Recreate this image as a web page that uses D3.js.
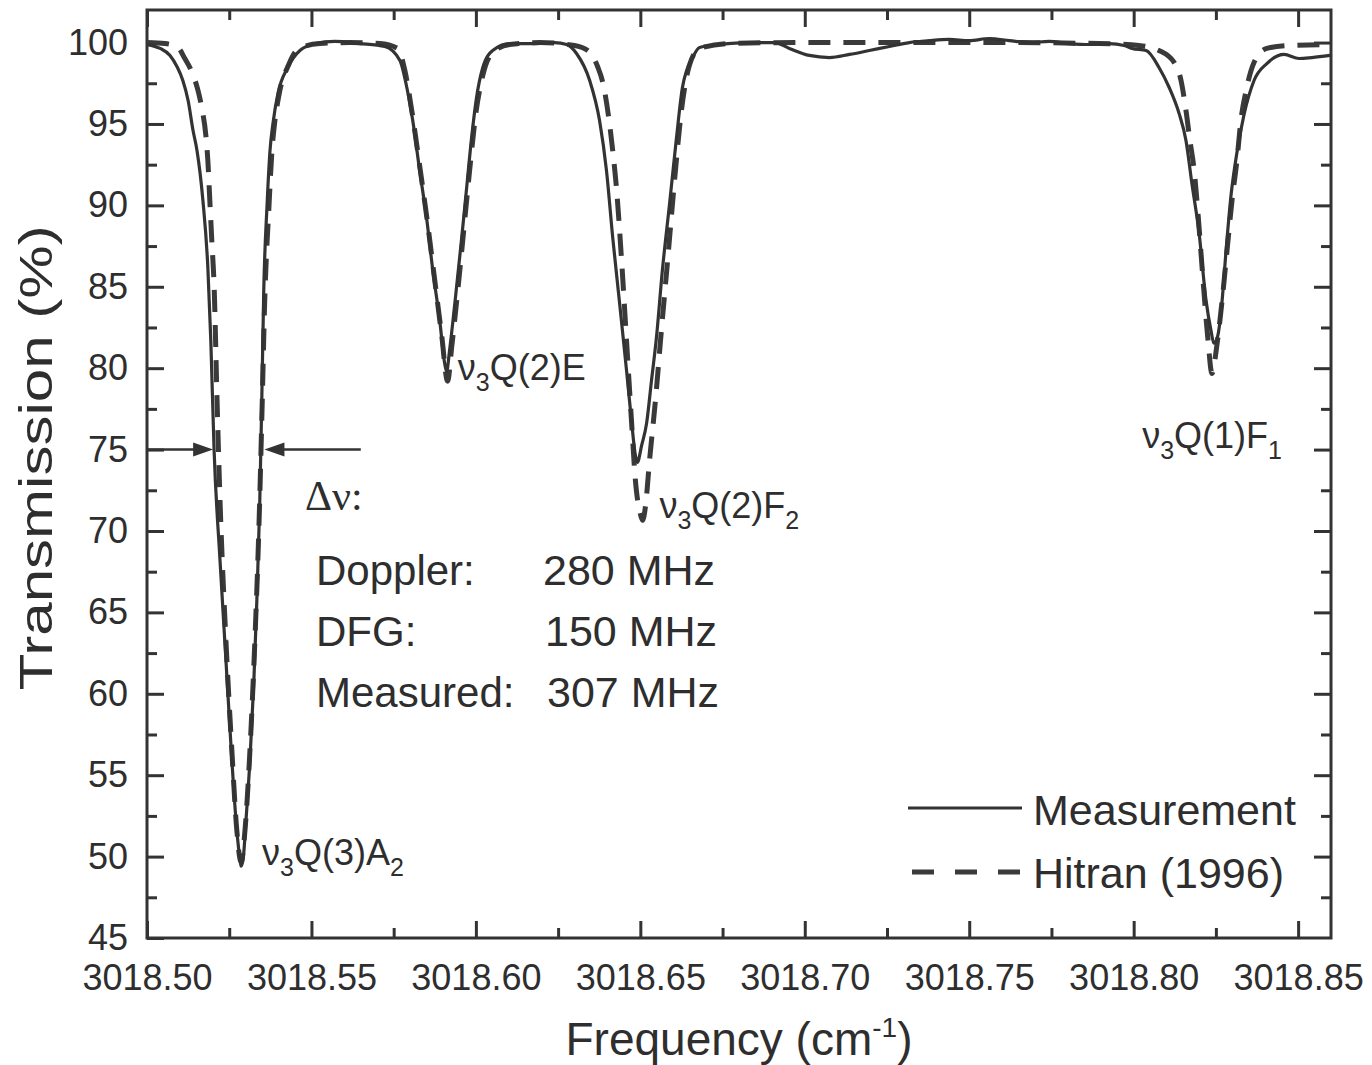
<!DOCTYPE html>
<html>
<head>
<meta charset="utf-8">
<script src="https://cdn.jsdelivr.net/npm/d3@7"></script>
<style>
  body { margin: 0; background: #fff; }
  text { font-family: "Liberation Sans", Arial, sans-serif; fill: #2e2e2e; }
</style>
</head>
<body>
<svg id="chart" width="1372" height="1065"></svg>
<script>
// measured transmission spectrum (cm-1, %)
const measFreq = [
  3018.5000, 3018.5040, 3018.5070, 3018.5091, 3018.5109, 3018.5125, 3018.5140, 3018.5152, 3018.5170, 3018.5185,
  3018.5194, 3018.5204, 3018.5222, 3018.5240, 3018.5258, 3018.5273, 3018.5283, 3018.5286, 3018.5292, 3018.5301,
  3018.5313, 3018.5325, 3018.5334, 3018.5343, 3018.5349, 3018.5355, 3018.5365, 3018.5374, 3018.5383, 3018.5398,
  3018.5428, 3018.5465, 3018.5513, 3018.5571, 3018.5647, 3018.5723,
  3018.5769, 3018.5790, 3018.5808, 3018.5829, 3018.5851, 3018.5869, 3018.5890, 3018.5905, 3018.5911, 3018.5920,
  3018.5936, 3018.5957, 3018.5972, 3018.5987, 3018.6002, 3018.6021, 3018.6051, 3018.6103, 3018.6173, 3018.6239,
  3018.6276,
  3018.6306, 3018.6346, 3018.6376, 3018.6397, 3018.6416, 3018.6437, 3018.6458, 3018.6473, 3018.6485, 3018.6491,
  3018.6504, 3018.6519, 3018.6534, 3018.6549, 3018.6567, 3018.6589, 3018.6610, 3018.6628, 3018.6659, 3018.6680,
  3018.6741, 3018.6832, 3018.6908, 3018.6953, 3018.7014, 3018.7075, 3018.7136, 3018.7196, 3018.7257, 3018.7318,
  3018.7379, 3018.7439, 3018.7500, 3018.7561, 3018.7622, 3018.7682, 3018.7743, 3018.7804, 3018.7865, 3018.7925,
  3018.7971,
  3018.7995, 3018.8038, 3018.8077, 3018.8108, 3018.8138, 3018.8159, 3018.8177, 3018.8199, 3018.8220, 3018.8235,
  3018.8244, 3018.8256, 3018.8269, 3018.8281, 3018.8296, 3018.8314, 3018.8335, 3018.8366, 3018.8405, 3018.8457,
  3018.8503, 3018.8542, 3018.8597
];
const measT = [
  99.88, 99.64, 99.21, 98.53, 97.67, 96.44, 94.60, 93.37, 90.30, 86.19,
  81.71, 74.96, 68.20, 62.07, 55.93, 51.63, 49.79, 49.42, 49.79, 52.24,
  55.93, 60.84, 65.75, 71.89, 78.03, 84.78, 90.00, 93.37, 95.03, 96.87,
  98.47, 99.51, 99.94, 100.07, 99.94, 99.76,
  98.90, 97.24, 95.21, 92.15, 89.08, 86.01, 82.94, 80.30, 79.80, 81.10,
  83.98, 88.03, 91.10, 94.17, 96.63, 98.47, 99.51, 99.94, 99.94, 100.00,
  99.88,
  99.33, 97.67, 95.21, 92.15, 88.03, 83.98, 79.87, 76.80, 74.65, 74.22,
  75.26, 76.61, 79.25, 81.89, 86.01, 90.12, 94.17, 97.24, 99.08, 99.70,
  99.88, 100.00, 100.00, 99.64, 99.21, 99.08, 99.27, 99.51, 99.76, 100.00,
  100.12, 100.19, 100.12, 100.25, 100.12, 100.00, 100.07, 99.94, 99.88, 99.94,
  99.82,
  99.64, 99.51, 98.47, 97.24, 95.65, 93.99, 91.35, 88.28, 84.17, 82.32,
  81.53, 82.02, 84.17, 87.24, 90.61, 93.25, 95.52, 97.67, 98.71, 99.27,
  99.02, 99.08, 99.21
];

// Hitran (1996) simulation
const hitranFreq = [
  3018.5000, 3018.5055, 3018.5094, 3018.5115, 3018.5137, 3018.5155, 3018.5167, 3018.5179, 3018.5185, 3018.5191,
  3018.5197, 3018.5204, 3018.5213, 3018.5222, 3018.5240, 3018.5258, 3018.5273, 3018.5286, 3018.5298, 3018.5313,
  3018.5328, 3018.5340, 3018.5349, 3018.5358, 3018.5371, 3018.5380, 3018.5389, 3018.5401, 3018.5431, 3018.5462,
  3018.5526, 3018.5617, 3018.5708,
  3018.5762, 3018.5784, 3018.5805, 3018.5829, 3018.5854, 3018.5875, 3018.5896, 3018.5914, 3018.5927, 3018.5945,
  3018.5963, 3018.5981, 3018.5999, 3018.6021, 3018.6051, 3018.6103, 3018.6194,
  3018.6300, 3018.6340, 3018.6370, 3018.6388, 3018.6403, 3018.6416, 3018.6428, 3018.6443, 3018.6458, 3018.6473,
  3018.6485, 3018.6501, 3018.6507, 3018.6516, 3018.6528, 3018.6546, 3018.6564, 3018.6583, 3018.6604, 3018.6625,
  3018.6649, 3018.6680, 3018.6771, 3018.6984, 3018.7287, 3018.7591, 3018.7895,
  3018.8016, 3018.8077, 3018.8123, 3018.8144, 3018.8159, 3018.8171, 3018.8184, 3018.8196, 3018.8211, 3018.8226,
  3018.8238, 3018.8253, 3018.8269, 3018.8284, 3018.8299, 3018.8314, 3018.8326, 3018.8342, 3018.8366, 3018.8405,
  3018.8472, 3018.8597
];
const hitranT = [
  100.00, 99.94, 99.70, 99.02, 98.16, 97.06, 95.95, 94.29, 92.76, 90.30,
  87.85, 85.09, 78.03, 71.89, 63.29, 56.54, 51.63, 49.67, 51.63, 56.54,
  63.29, 70.05, 76.80, 84.17, 90.00, 93.37, 95.21, 96.75, 98.65, 99.64,
  99.94, 100.00, 99.94,
  99.64, 98.29, 95.83, 92.45, 88.77, 85.39, 82.02, 79.20, 81.40, 84.78,
  88.46, 92.15, 95.52, 97.98, 99.39, 99.88, 100.00,
  99.82, 99.51, 98.53, 97.36, 95.52, 93.37, 90.92, 86.62, 81.71, 76.80,
  73.12, 70.97, 70.66, 71.58, 74.34, 78.03, 82.32, 86.62, 91.53, 95.83,
  98.59, 99.64, 99.94, 100.00, 100.00, 100.00, 99.94,
  99.82, 99.51, 98.78, 97.67, 95.83, 93.99, 92.15, 89.39, 85.39, 81.71,
  79.68, 81.40, 84.17, 87.24, 90.30, 92.76, 95.21, 97.06, 98.78, 99.64,
  99.82, 99.88
];

const xTicks = [3018.50, 3018.55, 3018.60, 3018.65, 3018.70, 3018.75, 3018.80, 3018.85];
const xMinor = [3018.525, 3018.575, 3018.625, 3018.675, 3018.725, 3018.775, 3018.825];
const yTicks = [45, 50, 55, 60, 65, 70, 75, 80, 85, 90, 95, 100];
const yMinor = [47.5, 52.5, 57.5, 62.5, 67.5, 72.5, 77.5, 82.5, 87.5, 92.5, 97.5];

// line labels: nu_3 + main part + subscript
const peakNames = [
  ["Q(3)A", "2"],
  ["Q(2)E", ""],
  ["Q(2)F", "2"],
  ["Q(1)F", "1"]
];
const peakAt = [[3018.5350, 49.5], [3018.5945, 79.3], [3018.6558, 70.8], [3018.8026, 75.1]];

const widthRows = ["Doppler:", "DFG:", "Measured:"];
const widthVals = ["280 MHz", "150 MHz", "307 MHz"];

const svg = d3.select('#chart');
const mLeft = 147, mRight = 1331, mTop = 10, mBottom = 938;
const ink = '#333';

const x = d3.scaleLinear().domain([3018.50, 3018.86]).range([mLeft, mRight]);
const y = d3.scaleLinear().domain([45, 102]).range([mBottom, mTop]);

svg.append('defs').append('clipPath').attr('id', 'plot')
  .append('rect').attr('x', mLeft).attr('y', mTop).attr('width', mRight - mLeft).attr('height', mBottom - mTop);

// axes, ticks point inward on all four sides
const fmtX = d3.format('.2f');
const axisStyle = g => {
  g.select('.domain').remove();
  g.selectAll('line').attr('stroke', ink).attr('stroke-width', 3);
  g.selectAll('text').style('font-size', '36px').attr('fill', '#2e2e2e');
};

svg.append('g').attr('transform', `translate(0,${mBottom})`)
  .call(d3.axisBottom(x).tickValues(xTicks).tickFormat(fmtX).tickSizeInner(-17).tickPadding(26))
  .call(axisStyle);
svg.append('g').attr('transform', `translate(0,${mBottom})`)
  .call(d3.axisBottom(x).tickValues(xMinor).tickFormat('').tickSizeInner(-10))
  .call(axisStyle);
svg.append('g').attr('transform', `translate(0,${mTop})`)
  .call(d3.axisTop(x).tickValues(xTicks).tickFormat('').tickSizeInner(-17))
  .call(axisStyle);
svg.append('g').attr('transform', `translate(0,${mTop})`)
  .call(d3.axisTop(x).tickValues(xMinor).tickFormat('').tickSizeInner(-10))
  .call(axisStyle);

svg.append('g').attr('transform', `translate(${mLeft},0)`)
  .call(d3.axisLeft(y).tickValues(yTicks).tickFormat(d3.format('d')).tickSizeInner(-17).tickPadding(19))
  .call(axisStyle);
svg.append('g').attr('transform', `translate(${mLeft},0)`)
  .call(d3.axisLeft(y).tickValues(yMinor).tickFormat('').tickSizeInner(-10))
  .call(axisStyle);
svg.append('g').attr('transform', `translate(${mRight},0)`)
  .call(d3.axisRight(y).tickValues(yTicks.filter(d => d > 45)).tickFormat('').tickSizeInner(-17))
  .call(axisStyle);
svg.append('g').attr('transform', `translate(${mRight},0)`)
  .call(d3.axisRight(y).tickValues(yMinor).tickFormat('').tickSizeInner(-10))
  .call(axisStyle);

svg.append('rect')
  .attr('x', mLeft).attr('y', mTop).attr('width', mRight - mLeft).attr('height', mBottom - mTop)
  .attr('fill', 'none').attr('stroke', ink).attr('stroke-width', 3);

// curves
const line = d3.line().x(d => x(d[0])).y(d => y(d[1])).curve(d3.curveMonotoneX);
const plot = svg.append('g').attr('clip-path', 'url(#plot)');

plot.append('path')
  .datum(hitranFreq.map((f, i) => [f, hitranT[i]]))
  .attr('d', line).attr('fill', 'none')
  .attr('stroke', '#3a3a3a').attr('stroke-width', 5)
  .attr('stroke-dasharray', '22,13');

plot.append('path')
  .datum(measFreq.map((f, i) => [f, measT[i]]))
  .attr('d', line).attr('fill', 'none')
  .attr('stroke', ink).attr('stroke-width', 3.2)
  .attr('stroke-linejoin', 'round');

// peak labels: nu_3 Q(..)X_n
peakNames.forEach((p, i) => {
  const t = svg.append('text')
    .attr('x', x(peakAt[i][0])).attr('y', y(peakAt[i][1]))
    .style('font-size', '36px');
  t.append('tspan').text('ν');
  t.append('tspan').attr('dy', 11).style('font-size', '25px').text('3');
  t.append('tspan').attr('dy', -11).text(p[0]);
  if (p[1]) t.append('tspan').attr('dy', 11).style('font-size', '25px').text(p[1]);
});

// linewidth arrows at 75 %
const arrowY = y(75);
const head = (tipX, dir) => {
  svg.append('path')
    .attr('d', `M${tipX},${arrowY} l${-dir * 20},-7 l0,14 z`)
    .attr('fill', ink);
};
svg.append('line')
  .attr('x1', x(3018.500)).attr('x2', x(3018.5201) - 16)
  .attr('y1', arrowY).attr('y2', arrowY)
  .attr('stroke', ink).attr('stroke-width', 2.5);
head(x(3018.5201), 1);
svg.append('line')
  .attr('x1', x(3018.5650)).attr('x2', x(3018.5357) + 16)
  .attr('y1', arrowY).attr('y2', arrowY)
  .attr('stroke', ink).attr('stroke-width', 2.5);
head(x(3018.5357), -1);

svg.append('text')
  .attr('x', 305).attr('y', 510)
  .style('font-family', '"Liberation Serif", "Times New Roman", serif')
  .style('font-size', '42px')
  .text('Δν:');

widthRows.forEach((r, i) => {
  svg.append('text').attr('x', 316).attr('y', 585 + i * 61).style('font-size', '42px').text(r);
  svg.append('text').attr('x', 543 + i * 2).attr('y', 585 + i * 61).style('font-size', '43px').text(widthVals[i]);
});

// legend
svg.append('line')
  .attr('x1', 908).attr('x2', 1022).attr('y1', 808).attr('y2', 808)
  .attr('stroke', ink).attr('stroke-width', 3.2);
svg.append('text').attr('x', 1033).attr('y', 825).style('font-size', '43px').text('Measurement');
svg.append('line')
  .attr('x1', 912).attr('x2', 1022).attr('y1', 872).attr('y2', 872)
  .attr('stroke', '#3a3a3a').attr('stroke-width', 5).attr('stroke-dasharray', '22,21');
svg.append('text').attr('x', 1033).attr('y', 888).style('font-size', '43px').text('Hitran (1996)');

// axis titles
const xt = svg.append('text')
  .attr('x', x(3018.68)).attr('y', 1055)
  .attr('text-anchor', 'middle')
  .style('font-size', '46px');
xt.append('tspan').text('Frequency (cm');
xt.append('tspan').attr('dy', -18).style('font-size', '28px').text('-1');
xt.append('tspan').attr('dy', 18).text(')');

svg.append('text')
  .attr('transform', `translate(52,${y(74.5)}) rotate(-90)`)
  .attr('text-anchor', 'middle')
  .attr('textLength', 465)
  .attr('lengthAdjust', 'spacingAndGlyphs')
  .style('font-size', '46px')
  .text('Transmission (%)');
</script>
</body>
</html>
